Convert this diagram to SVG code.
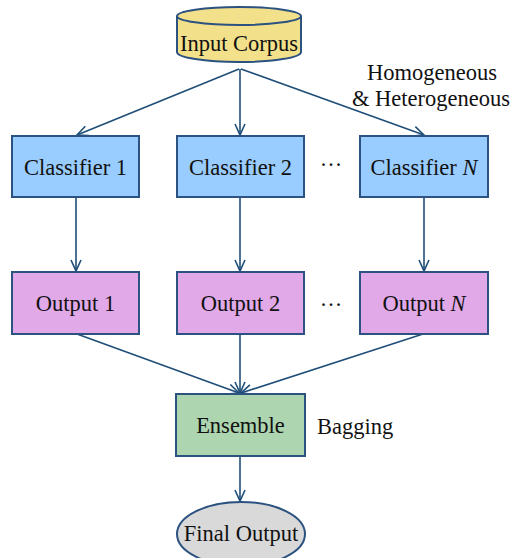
<svg xmlns="http://www.w3.org/2000/svg" width="516" height="558" viewBox="0 0 516 558">
<style>
text{font-family:"Liberation Serif","Times New Roman",serif;font-size:22.5px;fill:#111}
.b{stroke:#2B5280;stroke-width:2}
.c{stroke:#1F4E79;stroke-width:1.6;fill:none;marker-end:url(#ah)}
</style>
<defs>
<marker id="ah" markerWidth="14" markerHeight="12" refX="12" refY="6" orient="auto" markerUnits="userSpaceOnUse">
<path d="M1,1 L12,6 L1,11" fill="none" stroke="#1F4E79" stroke-width="1.6"/>
</marker>
</defs>
<rect width="516" height="558" fill="#fff"/>
<g id="connectors">
<line class="c" x1="239" y1="69" x2="77" y2="135"/>
<line class="c" x1="240" y1="69" x2="240" y2="135"/>
<line class="c" x1="241" y1="69" x2="424" y2="135"/>
<line class="c" x1="76" y1="197" x2="76" y2="271"/>
<line class="c" x1="240" y1="197" x2="240" y2="271"/>
<line class="c" x1="424" y1="197" x2="424" y2="271"/>
<line class="c" x1="77" y1="334" x2="239" y2="393"/>
<line class="c" x1="240" y1="334" x2="240" y2="393"/>
<line class="c" x1="423" y1="334" x2="241" y2="393"/>
<line class="c" x1="240" y1="456" x2="240" y2="501"/>
</g>
<g id="input-corpus">
<path class="b" d="M177,16 L177,52 A62,10 0 0 0 301,52 L301,16" fill="#F2E08A"/>
<ellipse class="b" cx="239" cy="16" rx="62" ry="9" fill="#F2E08A"/>
<text x="239" y="51" text-anchor="middle">Input Corpus</text>
</g>
<g id="classifier-1"><rect class="b" x="12" y="136" width="127" height="61" fill="#99CCFF"/><text x="75.5" y="175" text-anchor="middle">Classifier 1</text></g>
<g id="classifier-2"><rect class="b" x="177" y="136" width="127" height="61" fill="#99CCFF"/><text x="240.5" y="175" text-anchor="middle">Classifier 2</text></g>
<g id="classifier-n"><rect class="b" x="360" y="136" width="128" height="61" fill="#99CCFF"/><text x="424" y="175" text-anchor="middle">Classifier <tspan font-style="italic">N</tspan></text></g>
<text x="331" y="172" text-anchor="middle">···</text>
<g id="output-1"><rect class="b" x="12" y="272" width="127" height="62" fill="#E1A9E8"/><text x="75.5" y="311" text-anchor="middle">Output 1</text></g>
<g id="output-2"><rect class="b" x="177" y="272" width="127" height="62" fill="#E1A9E8"/><text x="240.5" y="311" text-anchor="middle">Output 2</text></g>
<g id="output-n"><rect class="b" x="360" y="272" width="128" height="62" fill="#E1A9E8"/><text x="424" y="311" text-anchor="middle">Output <tspan font-style="italic">N</tspan></text></g>
<text x="331" y="312" text-anchor="middle">···</text>
<g id="ensemble"><rect class="b" x="176" y="394" width="129" height="62" fill="#ADD5B0"/><text x="240.5" y="433" text-anchor="middle">Ensemble</text></g>
<text x="317" y="434">Bagging</text>
<g id="final-output"><ellipse class="b" cx="241" cy="534" rx="64" ry="32" fill="#D9D9D9"/><text x="241" y="541" text-anchor="middle">Final Output</text></g>
<text x="432" y="80" text-anchor="middle">Homogeneous</text>
<text x="431" y="106" text-anchor="middle">&amp; Heterogeneous</text>
</svg>
